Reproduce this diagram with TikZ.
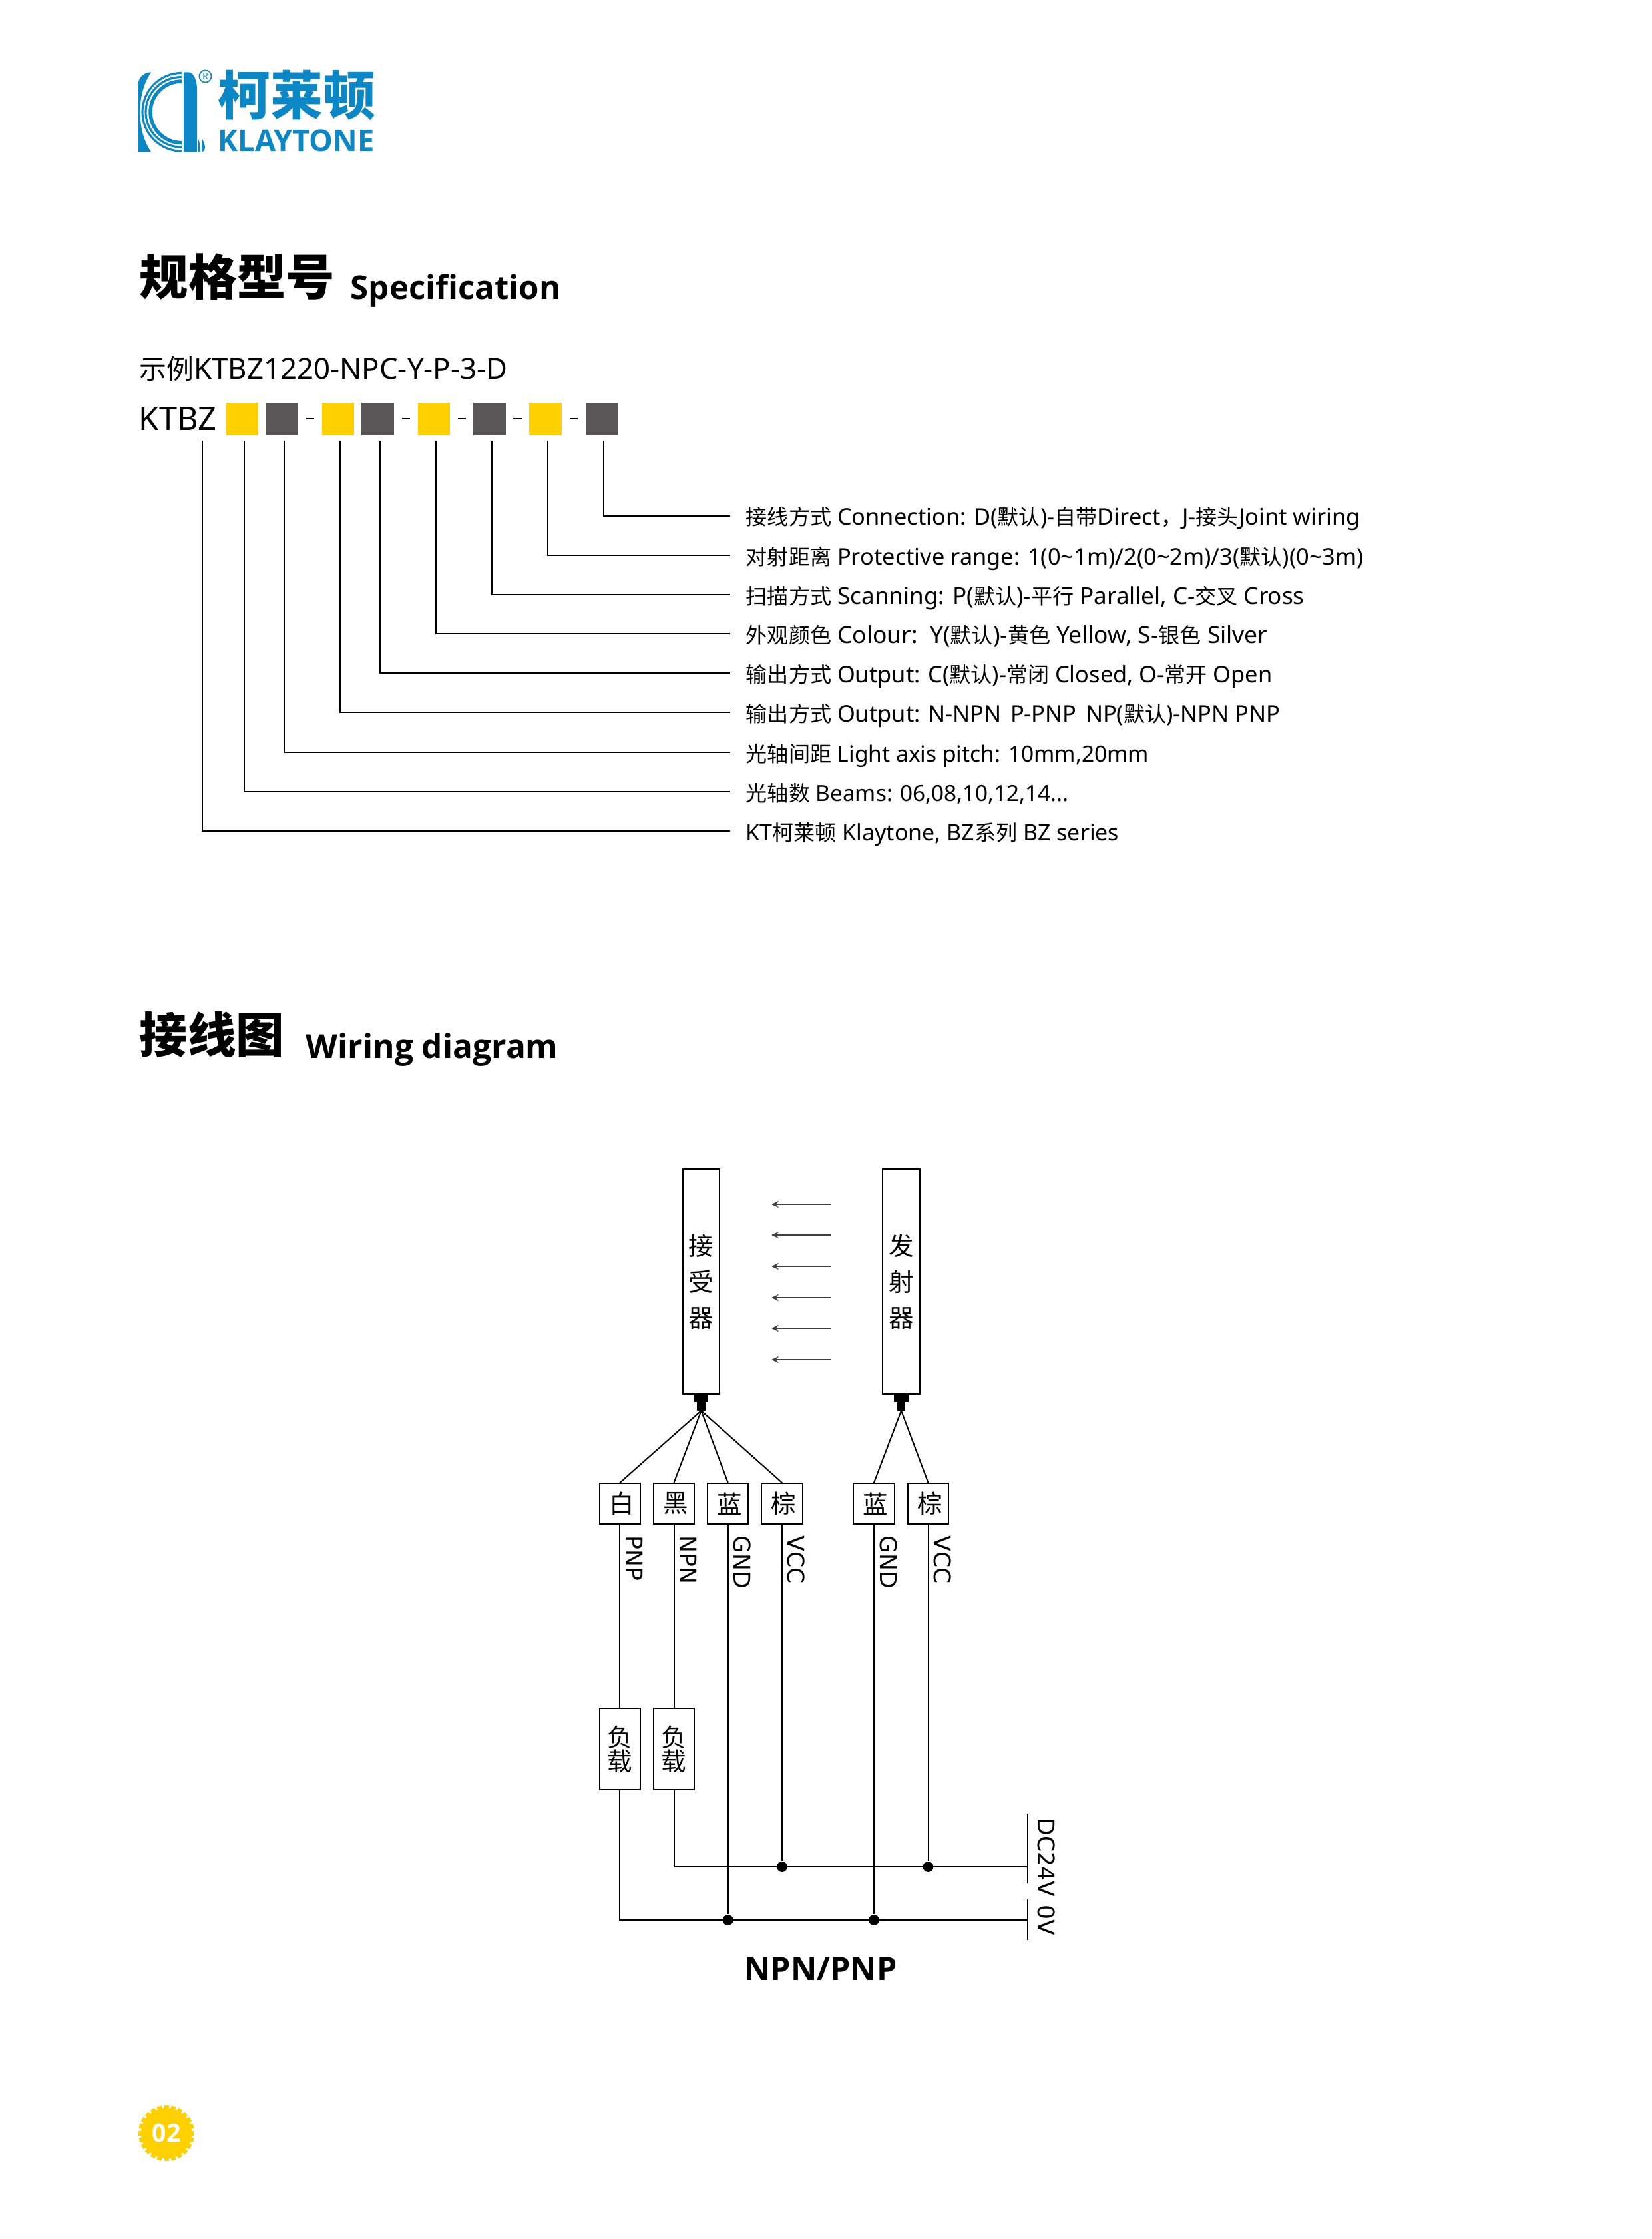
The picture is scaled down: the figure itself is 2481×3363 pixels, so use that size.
\documentclass[tikz,border=0pt]{standalone}
\usepackage{fontspec}
\setmainfont{Noto Sans}
\newfontfamily\cjk{Noto Sans CJK SC}
\newfontfamily\djv{DejaVu Sans}
\newfontfamily\hvy{Open Sans}
\newcommand\Z[1]{{\cjk\fontsize{7.7pt}{9pt}\selectfont #1}}
\newcommand\ZZ[1]{{\cjk\fontsize{9.8pt}{12pt}\selectfont #1}}
\definecolor{kblue}{HTML}{0A87C4}
\definecolor{kyel}{HTML}{FFD000}
\definecolor{kgray}{HTML}{5A5556}
\definecolor{arrgray}{HTML}{404040}
\usetikzlibrary{arrows.meta}
\tikzset{
  wire/.style={draw=black,line width=0.48pt},
  specline/.style={draw=black,line width=0.4pt},
  lbl/.style={anchor=base west,inner sep=0pt,font=\fontsize{8.25pt}{9pt}\selectfont},
  yel/.style={fill=kyel,draw=none,minimum width=11.6pt,minimum height=11.8pt,inner sep=0pt},
  gry/.style={fill=kgray,draw=none,minimum width=11.6pt,minimum height=11.8pt,inner sep=0pt},
  dsh/.style={draw=black,line width=0.7pt},
  bar/.style={draw=black,line width=0.48pt,fill=white,minimum width=13.3pt,minimum height=81.1pt,inner sep=0pt,align=center,font=\cjk\fontsize{9pt}{12.96pt}\selectfont},
  cbox/.style={draw=black,line width=0.48pt,minimum width=14.7pt,minimum height=14.6pt,inner sep=0pt,font=\cjk\fontsize{9pt}{10pt}\selectfont,execute at begin node={\hspace*{1.2pt}}},
  load/.style={draw=black,line width=0.48pt,minimum width=14.7pt,minimum height=29.3pt,inner sep=0pt,align=center,font=\cjk\fontsize{9pt}{8.7pt}\selectfont},
  vlab/.style={rotate=-90,anchor=west,inner sep=0pt,font=\djv\fontsize{8.3pt}{10pt}\selectfont},
  jdot/.style={circle,fill=black,draw=none,minimum size=3.8pt,inner sep=0pt},
  beam/.style={draw=arrgray,line width=0.6pt,-{Stealth[length=2.6pt,width=2.4pt]}},
  plugw/.style={fill=black,draw=none,minimum width=5.1pt,minimum height=3pt,inner sep=0pt},
  plugn/.style={fill=black,draw=none,minimum width=2.9pt,minimum height=3.2pt,inner sep=0pt},
}
\begin{document}
\begin{tikzpicture}[x=0.24pt,y=-0.24pt]
\useasboundingbox (0,0) rectangle (2481,3363);
% logo
\fill[kblue] (207.4,228.3) -- (207.4,128) .. controls (207.4,118) and (214,109) .. (227,108.3)
  .. controls (216,125) and (210.5,145) .. (210.5,168) .. controls (210.5,192) and (216,212) .. (227,228.3) -- cycle;
\draw[kblue,line width=0.75pt] (273,109.5) arc[start angle=90,end angle=270,x radius=59,y radius=-58.8];
\draw[kblue,line width=0.75pt] (273,115.5) arc[start angle=90,end angle=270,x radius=54,y radius=-52.8];
\draw[kblue,line width=1.3pt] (273,122) arc[start angle=90,end angle=270,x radius=47,y radius=-46.3];
\fill[kblue] (276,108.3) -- (283,108.3) .. controls (291,108.3) and (296,120) .. (296,135) -- (296,228.3) -- (276,228.3) -- cycle;
\fill[kblue] (298,209) .. controls (300,214) and (301,220) .. (301,228.3) -- (298,228.3) -- cycle;
\fill[kblue] (304,209) .. controls (307,214) and (308,220) .. (308,222) .. controls (308,225) and (306,228) .. (304,228.3) -- cycle;
\node[kblue,draw=kblue,circle,line width=0.4pt,inner sep=0.4pt,font=\fontsize{3.4pt}{3.4pt}\selectfont] (reg) at (308.5,114.5) {R};
\node[anchor=base west,inner sep=0pt,text=kblue,font=\cjk\bfseries\fontsize{18.9pt}{20pt}\selectfont] (lcn) at (327,173) {柯莱顿};
\node[anchor=base west,inner sep=0pt,text=kblue,font=\hvy\bfseries\fontsize{10.8pt}{12pt}\selectfont] (len) at (327,228) {KLAYTONE};
% headings
\node[anchor=base west,inner sep=0pt,font=\cjk\bfseries\fontsize{17.6pt}{20pt}\selectfont] (h1) at (209,444) {规格型号};
\node[anchor=base west,inner sep=0pt,font=\hvy\bfseries\fontsize{11.8pt}{14pt}\selectfont] (h1e) at (526,450) {Specification};
\node[anchor=base west,inner sep=0pt,font=\fontsize{10.5pt}{12pt}\selectfont] (ex) at (209,570) {\ZZ{示例}KTBZ1220-NPC-Y-P-3-D};
\node[anchor=base west,inner sep=0pt,font=\fontsize{11.7pt}{14pt}\selectfont] (ktbz) at (208,647) {KTBZ};
% code squares
\node[yel] (s1) at (364,629.5) {};
\node[gry] (s2) at (424,629.5) {};
\node[yel] (s3) at (508,629.5) {};
\node[gry] (s4) at (567.5,629.5) {};
\node[yel] (s5) at (652,629.5) {};
\node[gry] (s6) at (735.5,629.5) {};
\node[yel] (s7) at (819.5,629.5) {};
\node[gry] (s8) at (904,629.5) {};
\foreach \a/\b in {460/472,604/616,688/700,771/784,856/868}{
  \draw[dsh] (\a,629) -- (\b,629);
}
% spec lines
\node[lbl] (t1) at (1120,789) {\Z{接线方式} Connection: D(\Z{默认})-\Z{自带}Direct\Z{，}J-\Z{接头}Joint wiring};
\node[lbl] (t2) at (1120,848) {\Z{对射距离} Protective range: 1(0\textasciitilde1m)/2(0\textasciitilde2m)/3(\Z{默认})(0\textasciitilde3m)};
\node[lbl,font=\fontsize{8.42pt}{9pt}\selectfont] (t3) at (1120,907) {\Z{扫描方式} Scanning: P(\Z{默认})-\Z{平行} Parallel, C-\Z{交叉} Cross};
\node[lbl,font=\fontsize{8.5pt}{9pt}\selectfont] (t4) at (1120,966) {\Z{外观颜色} Colour:\ \ Y(\Z{默认})-\Z{黄色} Yellow, S-\Z{银色} Silver};
\node[lbl] (t5) at (1120,1025) {\Z{输出方式} Output: C(\Z{默认})-\Z{常闭} Closed, O-\Z{常开} Open};
\node[lbl] (t6) at (1120,1084) {\Z{输出方式} Output: N-NPN\hspace{3.2pt}P-PNP\hspace{3.2pt}NP(\Z{默认})-NPN PNP};
\node[lbl,font=\fontsize{8.05pt}{9pt}\selectfont] (t7) at (1120,1144) {\Z{光轴间距} Light axis pitch: 10mm,20mm};
\node[lbl,font=\fontsize{8pt}{9pt}\selectfont] (t8) at (1120,1203) {\Z{光轴数} Beams: 06,08,10,12,14...};
\node[lbl,font=\fontsize{8.15pt}{9pt}\selectfont] (t9) at (1120,1262) {KT\Z{柯莱顿} Klaytone, BZ\Z{系列} BZ series};
\foreach \n/\x/\y in {a/907/775,b/823/834,c/739/893,d/655/952,e/571/1011,f/511/1070,g/427.5/1130,h/367/1189,i/304/1248}{
  \coordinate (top\n) at (\x,662);
  \coordinate (end\n) at (1097,\y);
  \draw[specline] (top\n) |- (end\n);
}
% wiring heading
\node[anchor=base west,inner sep=0pt,font=\cjk\bfseries\fontsize{17.4pt}{20pt}\selectfont] (h2) at (209,1581) {接线图};
\node[anchor=base west,inner sep=0pt,font=\hvy\bfseries\fontsize{11.9pt}{14pt}\selectfont] (h2e) at (459,1589) {Wiring diagram};
% bars
\node[bar] (rx) at (1053.5,1925) {接\\受\\器};
\node[bar] (tx) at (1354,1925) {发\\射\\器};
\node[plugw] (rp1) at (1053.5,2100) {};
\node[plugn] (rp2) at (1053.5,2112.5) {};
\node[plugw] (tp1) at (1354,2100) {};
\node[plugn] (tp2) at (1354,2112.5) {};
\coordinate (ra) at (1053.5,2119);
\coordinate (ta) at (1354,2119);
% beams
\foreach \k/\y in {1/1809,2/1855,3/1902,4/1949,5/1995,6/2042}{
  \coordinate (bs\k) at (1248,\y);
  \coordinate (be\k) at (1159,\y);
  \draw[beam] (bs\k) -- (be\k);
}
% colour boxes
\node[cbox] (c1) at (931.3,2258.5) {白};
\node[cbox] (c2) at (1012.5,2258.5) {黑};
\node[cbox] (c3) at (1093.7,2258.5) {蓝};
\node[cbox] (c4) at (1175,2258.5) {棕};
\node[cbox] (c5) at (1313,2258.5) {蓝};
\node[cbox] (c6) at (1394.5,2258.5) {棕};
\foreach \c in {c1,c2,c3,c4}{\draw[wire] (ra) -- (\c.north);}
\foreach \c in {c5,c6}{\draw[wire] (ta) -- (\c.north);}
% rotated labels
\node[vlab] (l1) at (953.5,2306) {PNP};
\node[vlab] (l2) at (1034,2306) {NPN};
\node[vlab] (l3) at (1115.5,2306) {GND};
\node[vlab] (l4) at (1196,2306) {VCC};
\node[vlab] (l5) at (1335,2306) {GND};
\node[vlab] (l6) at (1416,2306) {VCC};
% loads
\node[load] (la) at (931.3,2627) {负\\载};
\node[load] (lb) at (1012.5,2627) {负\\载};
% junctions and rails
\node[jdot] (j1) at (1175,2804) {};
\node[jdot] (j2) at (1394.5,2804) {};
\node[jdot] (j3) at (1093.7,2884) {};
\node[jdot] (j4) at (1313,2884) {};
\coordinate (r24) at (1544,2804);
\coordinate (r0) at (1544,2884);
\coordinate (t24a) at (1544,2724);
\coordinate (t24b) at (1544,2829);
\coordinate (t0a) at (1544,2853);
\coordinate (t0b) at (1544,2914);
\draw[wire] (c1.south) -- (la.north);
\draw[wire] (c2.south) -- (lb.north);
\draw[wire] (c3.south) -- (j3);
\draw[wire] (c4.south) -- (j1);
\draw[wire] (c5.south) -- (j4);
\draw[wire] (c6.south) -- (j2);
\draw[wire] (lb.south) |- (r24);
\draw[wire] (la.south) |- (r0);
\draw[wire] (t24a) -- (t24b);
\draw[wire] (t0a) -- (t0b);
\node[vlab] (dc) at (1572.5,2730) {DC24V};
\node[vlab] (zv) at (1572.5,2861) {0V};
\node[inner sep=0pt,font=\hvy\bfseries\fontsize{11.6pt}{14pt}\selectfont] (cap) at (1233,2957) {NPN/PNP};
% page badge
\fill[kyel] (250,3204) circle[radius=38];
\foreach \a in {0,15,...,345}{
  \fill[kyel,rotate around={\a:(250,3204)}] (246.5,3162) rectangle (253.5,3170);
}
\node[inner sep=0pt,text=white,font=\hvy\bfseries\fontsize{9pt}{10pt}\selectfont] (pg) at (250,3204) {02};
\end{tikzpicture}
\end{document}
